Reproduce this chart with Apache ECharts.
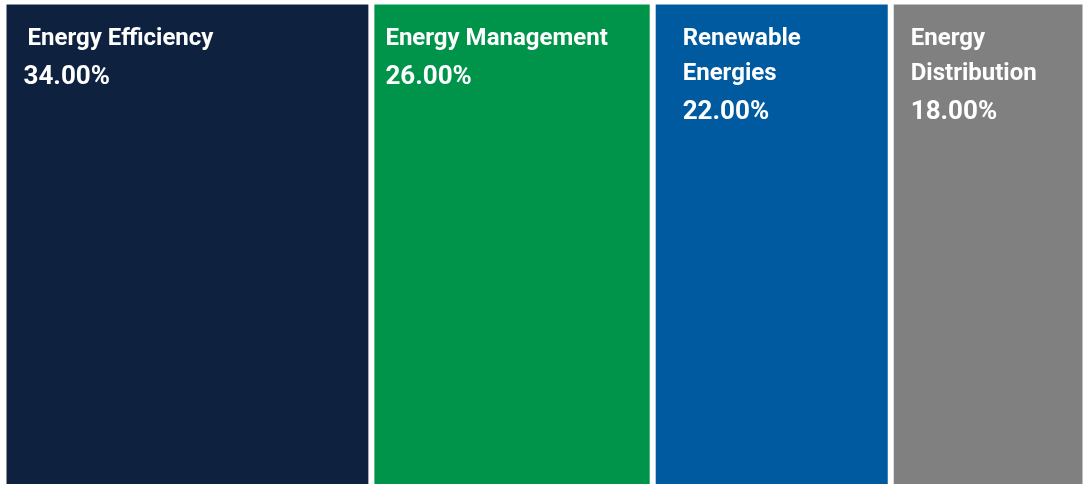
<!DOCTYPE html>
<html>
<head>
<meta charset="utf-8">
<style>
  html, body { margin: 0; padding: 0; background: #ffffff; overflow: hidden; }
  #chart { width: 1087px; height: 492px; }
</style>
<script src="https://cdn.jsdelivr.net/npm/echarts@6/dist/echarts.min.js"></script>
</head>
<body>
<div id="chart"></div>
<script>
const categories = ['Energy Efficiency', 'Energy Management', 'Renewable Energies', 'Energy Distribution'];
const labelLines = ['Energy Efficiency', 'Energy Management', 'Renewable\nEnergies', 'Energy\nDistribution'];
const shares = [34, 26, 22, 18];
const colors = ['#0E2240', '#00944A', '#005AA0', '#808080'];

const labelOffsets = [[20, 20], [14, 20], [30, 20], [20, 20]];
const titlePad = [4, 0, 0, 0];

const chart = echarts.init(document.getElementById('chart'), null, { renderer: 'canvas' });

const series = categories.map((name, i) => ({
  name: name,
  type: 'bar',
  stack: 'total',
  barWidth: '100%',
  data: [shares[i]],
  itemStyle: { color: colors[i], borderColor: '#ffffff', borderWidth: 3 },
  emphasis: { disabled: true },
  label: {
    show: true,
    position: 'insideTopLeft',
    distance: 0,
    offset: labelOffsets[i],
    formatter: p => labelLines[p.seriesIndex].split('\n').map(s => '{t|' + s + '}').join('\n') +
      '\n{v|' + p.value.toFixed(2) + '%}',
    rich: {
      t: {
        fontFamily: 'Roboto',
        fontWeight: 'bold',
        fontSize: 24,
        lineHeight: 35,
        color: '#ffffff',
        padding: [0, 0, 0, titlePad[i]]
      },
      v: {
        fontFamily: 'Roboto',
        fontWeight: 'bold',
        fontSize: 26,
        lineHeight: 42,
        color: '#ffffff'
      }
    }
  }
}));

chart.setOption({
  animation: false,
  backgroundColor: '#ffffff',
  grid: { left: 3.5, right: 1.5, top: 1.5, bottom: 0, containLabel: false },
  xAxis: { type: 'value', min: 0, max: 100, show: false },
  yAxis: { type: 'category', data: ['share'], show: false },
  tooltip: { show: false },
  series: series
});
</script>
</body>
</html>
